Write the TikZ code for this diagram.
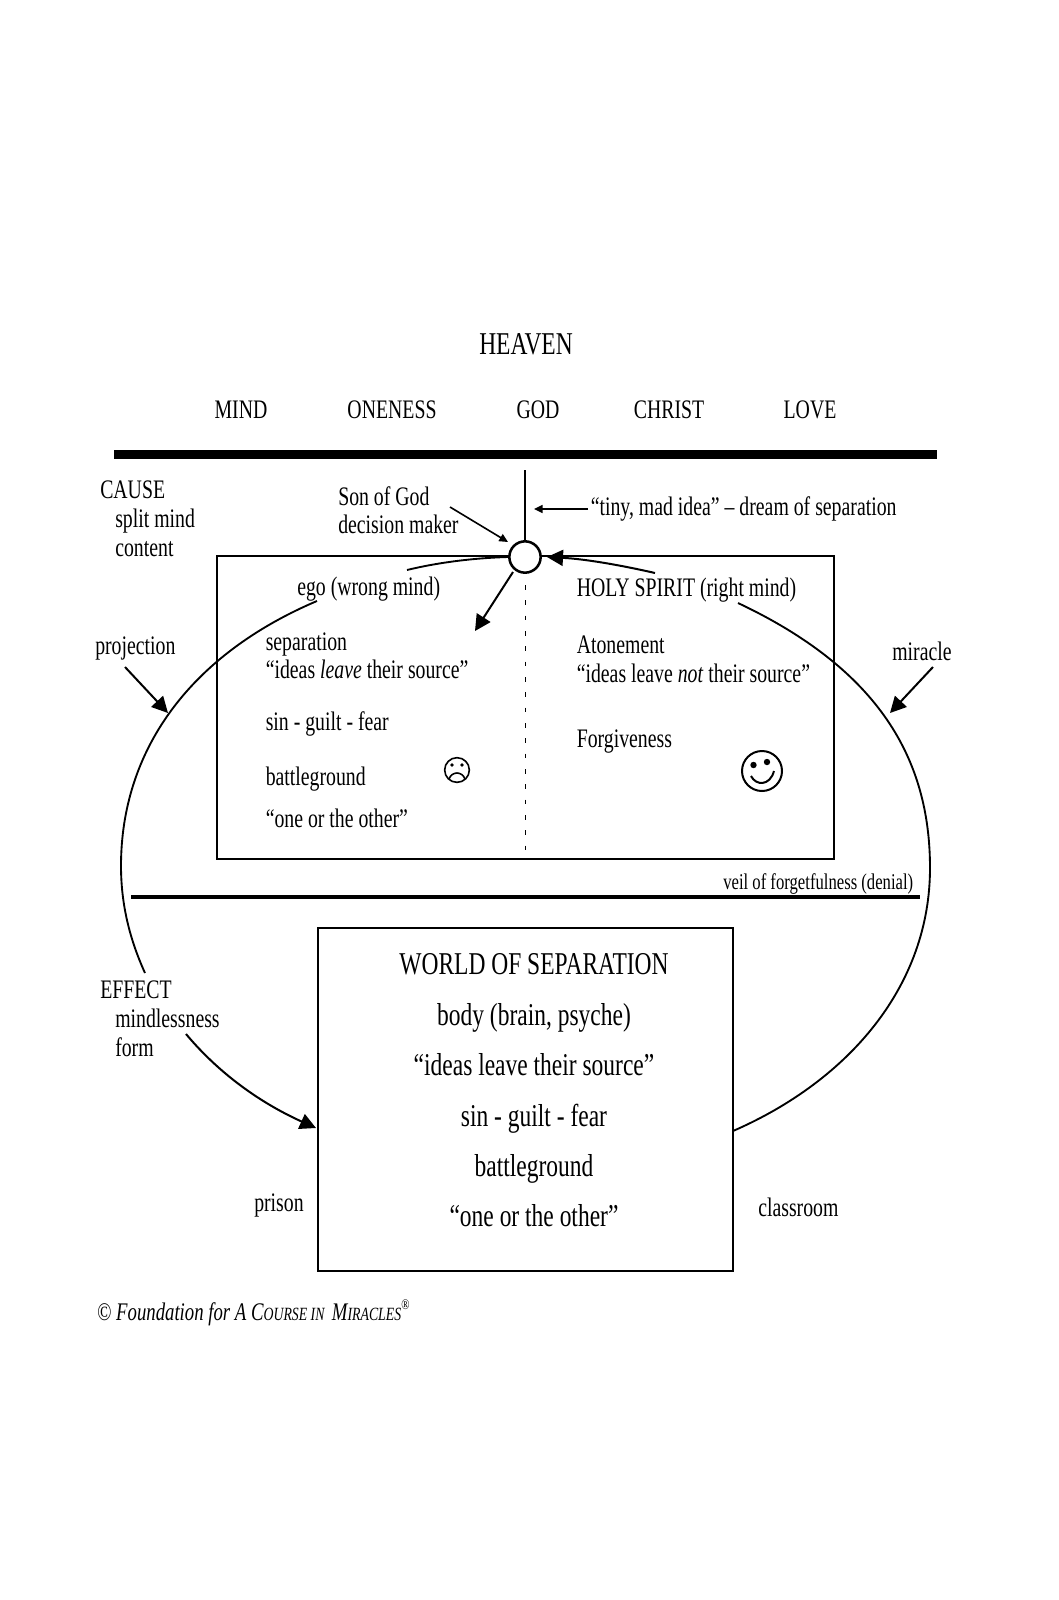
\documentclass[tikz,border=0pt]{standalone}
\usepackage{fontspec}
\setmainfont[FakeStretch=0.74]{Liberation Serif}
\usetikzlibrary{positioning,arrows.meta}
\tikzset{
lbl/.style={inner sep=0pt, anchor=base west, font=\fontsize{20.05}{24}\selectfont},
biglbl/.style={inner sep=0pt, anchor=base, font=\fontsize{23.8}{28}\selectfont},
smalllbl/.style={inner sep=0pt, anchor=base west, font=\fontsize{16.9}{20}\selectfont},
boxline/.style={draw, line width=1.5pt, inner sep=0pt},
face/.style={circle, draw, inner sep=0pt},
curve/.style={line width=1.4pt},
bigtip/.style={-{Triangle[length=12pt,width=12pt]}, line width=1.5pt},
smalltip/.style={-{Triangle[length=6.5pt,width=6pt]}, line width=1.2pt}
}
\begin{document}
\begin{tikzpicture}[x=0.75pt, y=-0.75pt]
  \useasboundingbox (0,0) rectangle (1058,1600);
  % heaven
  \node[biglbl] (heaven) at (526,354.5) {HEAVEN};
  \node[lbl, anchor=base] (mindword) at (241,418.5) {MIND};
  \node[lbl, anchor=base] (oneness) at (392,418.5) {ONENESS};
  \node[lbl, anchor=base] (god) at (538,418.5) {GOD};
  \node[lbl, anchor=base] (christ) at (669,418.5) {CHRIST};
  \node[lbl, anchor=base] (love) at (810,418.5) {LOVE};
  \coordinate (topL) at (114,454.5);
  \coordinate (topR) at (937,454.5);
  \draw[line width=6.8pt] (topL) -- (topR);
  % split mind
  \node[boxline, minimum width=462.5pt, minimum height=227.5pt] (splitbox) at (525.7,707.3) {};
  \coordinate (riftT) at (525,470);
  \coordinate (riftA) at (525,585);
  \coordinate (riftB) at (525,852);
  \draw[line width=1.2pt] (riftT) -- (525,545);
  \draw[line width=0.6pt, dash pattern=on 3.5pt off 8pt] (riftA) -- (riftB);
  \node[circle, draw, fill=white, line width=1.9pt, minimum size=23.5pt, inner sep=0pt] (dm) at (525,557) {};
  \node[lbl] (cause) at (100,498) {CAUSE};
  \node[lbl] (splitm) at (115,527) {split mind};
  \node[lbl] (content) at (115,556) {content};
  \node[lbl] (son) at (338,505) {Son of God};
  \node[lbl] (maker) at (338,533) {decision maker};
  \node[lbl] (tiny) at (590.5,515) {“tiny, mad idea” – dream of separation};
  \node[lbl] (ego) at (297,595) {ego (wrong mind)};
  \node[lbl] (sep) at (265.5,650) {separation};
  \node[lbl] (leave) at (265.5,678.5) {“ideas \textit{leave} their source”};
  \node[lbl] (sgf) at (265.5,730.5) {sin - guilt - fear};
  \node[lbl] (battle) at (265.5,785) {battleground};
  \node[lbl] (either) at (265.5,827) {“one or the other”};
  \node[lbl] (holy) at (576.5,596) {HOLY SPIRIT (right mind)};
  \node[lbl] (atone) at (576.5,653.5) {Atonement};
  \node[lbl] (notleave) at (576.5,682.5) {“ideas leave \textit{not} their source”};
  \node[lbl] (forgive) at (576.5,747.5) {Forgiveness};
  \node[lbl] (proj) at (95,654.5) {projection};
  \node[lbl] (miracle) at (892,660) {miracle};
  % faces
  \node[face, line width=1.2pt, minimum size=18.5pt] (frown) at (457,770) {};
  \fill (452,765) circle (1.9) (462,765) circle (1.9);
  \draw[line width=1.2pt] (449,779) .. controls (452,771) and (462,771) .. (465,779);
  \node[face, line width=1.5pt, minimum size=30pt] (smile) at (762,771) {};
  \fill (753.5,765) circle (3.2) (767,762) circle (3.2);
  \draw[line width=1.5pt] (751,776) .. controls (756,786) and (770,786) .. (774,771);
  % arrows at the circle
  \coordinate (sonS) at (450,507);
  \coordinate (sonE) at (508,542);
  \draw[smalltip] (sonS) -- (sonE);
  \coordinate (tinyS) at (588,509);
  \coordinate (tinyE) at (534,509);
  \draw[smalltip] (tinyS) -- (tinyE);
  \coordinate (dmS) at (513,572);
  \coordinate (dmE) at (475,631);
  \draw[bigtip] (dmS) -- (dmE);
  \coordinate (projS) at (125,667);
  \coordinate (projE) at (168,713);
  \draw[bigtip] (projS) -- (projE);
  \coordinate (mirS) at (933,667);
  \coordinate (mirE) at (890,713);
  \draw[bigtip] (mirS) -- (mirE);
  % long curves
  \coordinate (egoA) at (407,570);
  \coordinate (egoB) at (508,557);
  \draw[curve] (egoA) .. controls (440,562) and (475,558) .. (egoB);
  \coordinate (leftA) at (317,601);
  \coordinate (leftB) at (145,973);
  \draw[curve] (leftA) .. controls (190,655) and (121,750) .. (121,866) .. controls (121,905) and (130,940) .. (leftB);
  \coordinate (effA) at (186,1034);
  \coordinate (effB) at (316,1128);
  \draw[bigtip] (effA) .. controls (222,1077) and (265,1105) .. (effB);
  \coordinate (holyA) at (655,573);
  \coordinate (holyB) at (547,557);
  \draw[bigtip] (holyA) .. controls (620,565) and (585,559) .. (holyB);
  \coordinate (rightA) at (738,603);
  \coordinate (rightB) at (733,1131);
  \draw[curve] (rightA) .. controls (880,670) and (930,760) .. (930,868) .. controls (930,985) and (850,1080) .. (rightB);
  % veil
  \coordinate (veilL) at (131,897);
  \coordinate (veilR) at (920,897);
  \draw[line width=3.6pt] (veilL) -- (veilR);
  \node[smalllbl] (veil) at (723,889.5) {veil of forgetfulness (denial)};
  % world
  \node[boxline, minimum width=311.5pt, minimum height=257.3pt, fill=white] (worldbox) at (525.3,1099.5) {};
  \node[biglbl] (world) at (534,974) {WORLD OF SEPARATION};
  \node[biglbl] (body) at (534,1025) {body (brain, psyche)};
  \node[biglbl] (source) at (534,1075) {“ideas leave their source”};
  \node[biglbl] (sin) at (534,1126) {sin - guilt - fear};
  \node[biglbl] (ground) at (534,1176) {battleground};
  \node[biglbl] (other) at (534,1226) {“one or the other”};
  \node[lbl] (effect) at (100,998) {EFFECT};
  \node[lbl] (mindless) at (115,1027) {mindlessness};
  \node[lbl] (form) at (115,1056) {form};
  \node[lbl] (prison) at (254,1211) {prison};
  \node[lbl] (classroom) at (758,1216) {classroom};
  \node[smalllbl, font=\fontsize{19}{22}\selectfont] (foot) at (97,1320) {© \textit{Foundation for A C{\fontsize{14}{16}\selectfont OURSE IN}\hspace{2pt} M{\fontsize{14}{16}\selectfont IRACLES}}\raisebox{8pt}{\fontsize{11}{12}\selectfont ®}};
\end{tikzpicture}
\end{document}
